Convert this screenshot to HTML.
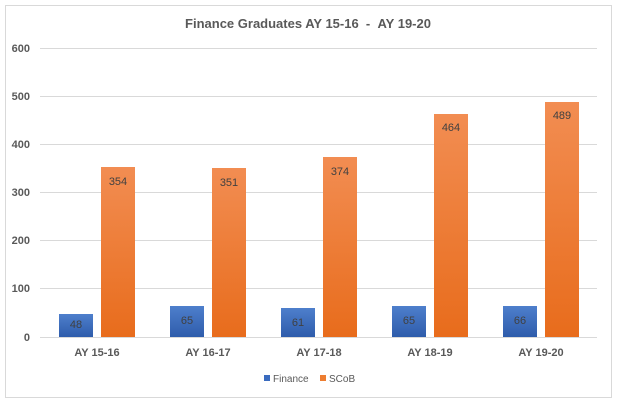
<!DOCTYPE html>
<html><head><meta charset="utf-8"><style>
body{margin:0;background:#fff}
svg text{font-family:"Liberation Sans",sans-serif;}
</style></head><body>
<svg width="617" height="401" viewBox="0 0 617 401" xmlns="http://www.w3.org/2000/svg">
<defs>
<linearGradient id="o" x1="0" y1="0" x2="0" y2="1"><stop offset="0" stop-color="#f28d52"/><stop offset="1" stop-color="#e86c1c"/></linearGradient>
<linearGradient id="b" x1="0" y1="0" x2="0" y2="1"><stop offset="0" stop-color="#4e7fcc"/><stop offset="1" stop-color="#2e5cab"/></linearGradient>
</defs>
<rect x="0" y="0" width="617" height="401" fill="#fff"/>
<rect x="5.5" y="5.5" width="606" height="392" fill="#fff" stroke="#d9d9d9"/>
<text x="308" y="28" text-anchor="middle" font-size="13" font-weight="bold" fill="#595959">Finance Graduates AY 15-16 &#160;- &#160;AY 19-20</text>
<g stroke="#d9d9d9" stroke-width="1">
<line x1="40" x2="597" y1="48.5" y2="48.5"/><line x1="40" x2="597" y1="96.5" y2="96.5"/><line x1="40" x2="597" y1="144.5" y2="144.5"/><line x1="40" x2="597" y1="192.5" y2="192.5"/><line x1="40" x2="597" y1="240.5" y2="240.5"/><line x1="40" x2="597" y1="288.5" y2="288.5"/><line x1="40" x2="597" y1="337.5" y2="337.5"/>
</g>
<g font-size="11" font-weight="bold" fill="#595959" text-anchor="end">
<text x="30" y="52">600</text><text x="30" y="100">500</text><text x="30" y="148">400</text><text x="30" y="196">300</text><text x="30" y="244">200</text><text x="30" y="292">100</text><text x="30" y="341">0</text>
</g>
<g font-size="11" fill="#404040" text-anchor="middle">
<rect x="59" y="314" width="34" height="23" fill="url(#b)"/><text x="76" y="328">48</text>
<rect x="101" y="167" width="34" height="170" fill="url(#o)"/><text x="118" y="185">354</text>
<rect x="170" y="306" width="34" height="31" fill="url(#b)"/><text x="187" y="324">65</text>
<rect x="212" y="168" width="34" height="169" fill="url(#o)"/><text x="229" y="186">351</text>
<rect x="281" y="308" width="34" height="29" fill="url(#b)"/><text x="298" y="326">61</text>
<rect x="323" y="157" width="34" height="180" fill="url(#o)"/><text x="340" y="175">374</text>
<rect x="392" y="306" width="34" height="31" fill="url(#b)"/><text x="409" y="324">65</text>
<rect x="434" y="114" width="34" height="223" fill="url(#o)"/><text x="451" y="131">464</text>
<rect x="503" y="306" width="34" height="31" fill="url(#b)"/><text x="520" y="324">66</text>
<rect x="545" y="102" width="34" height="235" fill="url(#o)"/><text x="562" y="119">489</text>
</g>
<g font-size="11" font-weight="bold" fill="#595959" text-anchor="middle">
<text x="97" y="356">AY 15-16</text><text x="208" y="356">AY 16-17</text><text x="319" y="356">AY 17-18</text><text x="430" y="356">AY 18-19</text><text x="541" y="356">AY 19-20</text>
</g>
<g font-size="10" fill="#595959">
<rect x="264" y="375" width="6" height="6" fill="#3a6bbf"/><text x="273" y="382">Finance</text>
<rect x="320" y="375" width="6" height="6" fill="#ed7d31"/><text x="329" y="382">SCoB</text>
</g>
</svg>
</body></html>
